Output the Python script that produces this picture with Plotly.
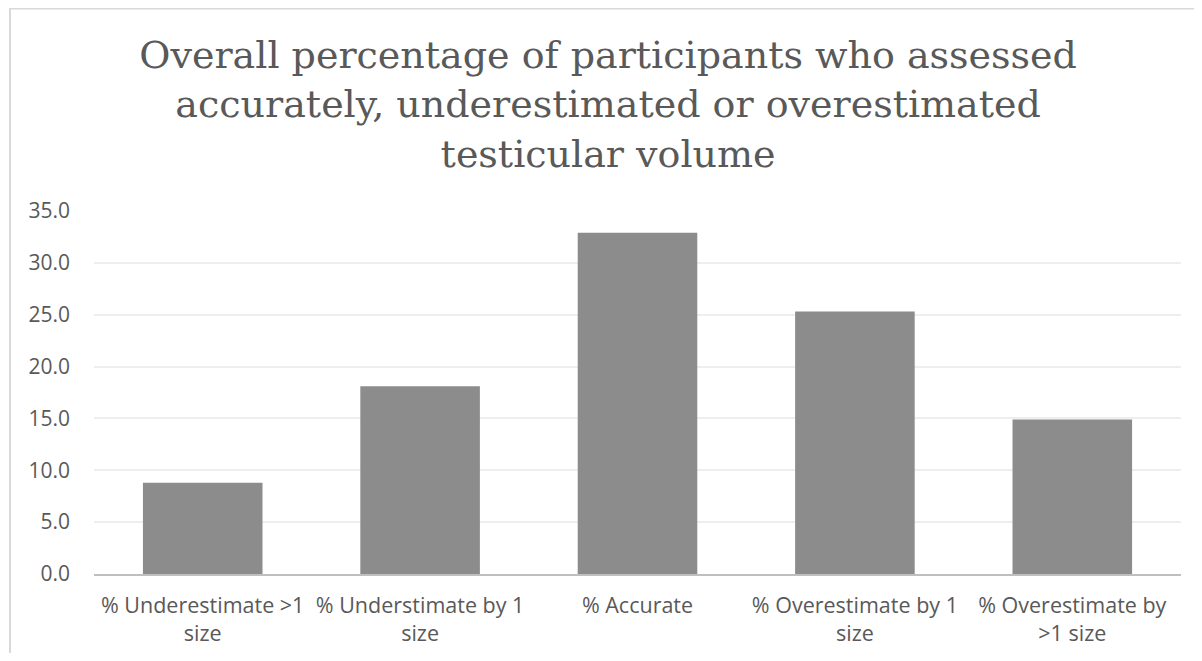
import plotly.graph_objects as go

categories = [
    "% Underestimate >1 size",
    "% Understimate by 1 size",
    "% Accurate",
    "% Overestimate by 1 size",
    "% Overestimate by >1 size",
]
tick_labels = [
    "% Underestimate >1<br>size",
    "% Understimate by 1<br>size",
    "% Accurate",
    "% Overestimate by 1<br>size",
    "% Overestimate by<br>>1 size",
]
values = [8.8, 18.1, 32.9, 25.3, 14.9]
y_ticks = [0, 5, 10, 15, 20, 25, 30, 35]

# page body has an 8px margin; figure sized to fit inside the window
W, H = 1186, 645
L, R, T, B = 86, 13, 203, 79
pw, ph = W - L - R, H - T - B

fig = go.Figure(go.Bar(x=categories, y=values, marker=dict(color="#8c8c8c", line=dict(width=0)),
                       hoverinfo="x+y"))

fig.update_layout(
    width=W, height=H,
    margin=dict(l=L, r=R, t=T, b=B, autoexpand=False),
    paper_bgcolor="white", plot_bgcolor="white",
    bargap=0.45,
    showlegend=False,
    title=dict(
        text="Overall percentage of participants who assessed<br>accurately, underestimated or overestimated<br>testicular volume",
        x=0.506, xanchor="center", xref="container",
        y=1 - 60 / H, yanchor="top", yref="container",
        font=dict(family="DejaVu Serif", size=38, color="#595959"),
        automargin=False,
    ),
    font=dict(family="Open Sans", color="#595959", size=20),
)
fig.update_xaxes(
    tickmode="array", tickvals=categories, ticktext=tick_labels,
    showgrid=False, showline=True, linecolor="#bfbfbf", linewidth=2,
    ticks="", ticklabelstandoff=11, automargin=False,
    tickfont=dict(family="Open Sans", size=21.5, color="#595959"),
)
fig.update_yaxes(
    range=[0, 35], tickmode="array", tickvals=y_ticks,
    ticktext=[f"{v:.1f}" for v in y_ticks],
    showgrid=True, gridcolor="#eeeeee", gridwidth=1.5,
    zeroline=False, showline=False, ticks="", ticklabelstandoff=23,
    automargin=False,
    tickfont=dict(family="Open Sans", size=21, color="#595959"),
)
# outer chart border
fig.add_shape(type="rect", xref="paper", yref="paper",
              x0=(2 - L) / pw, x1=(W + 20 - L) / pw,
              y0=(H - B - (H + 20)) / ph, y1=(H - B - 0.5) / ph,
              line=dict(color="#d9d9d9", width=2), fillcolor="rgba(0,0,0,0)", layer="below")

fig.write_html("out.html")
